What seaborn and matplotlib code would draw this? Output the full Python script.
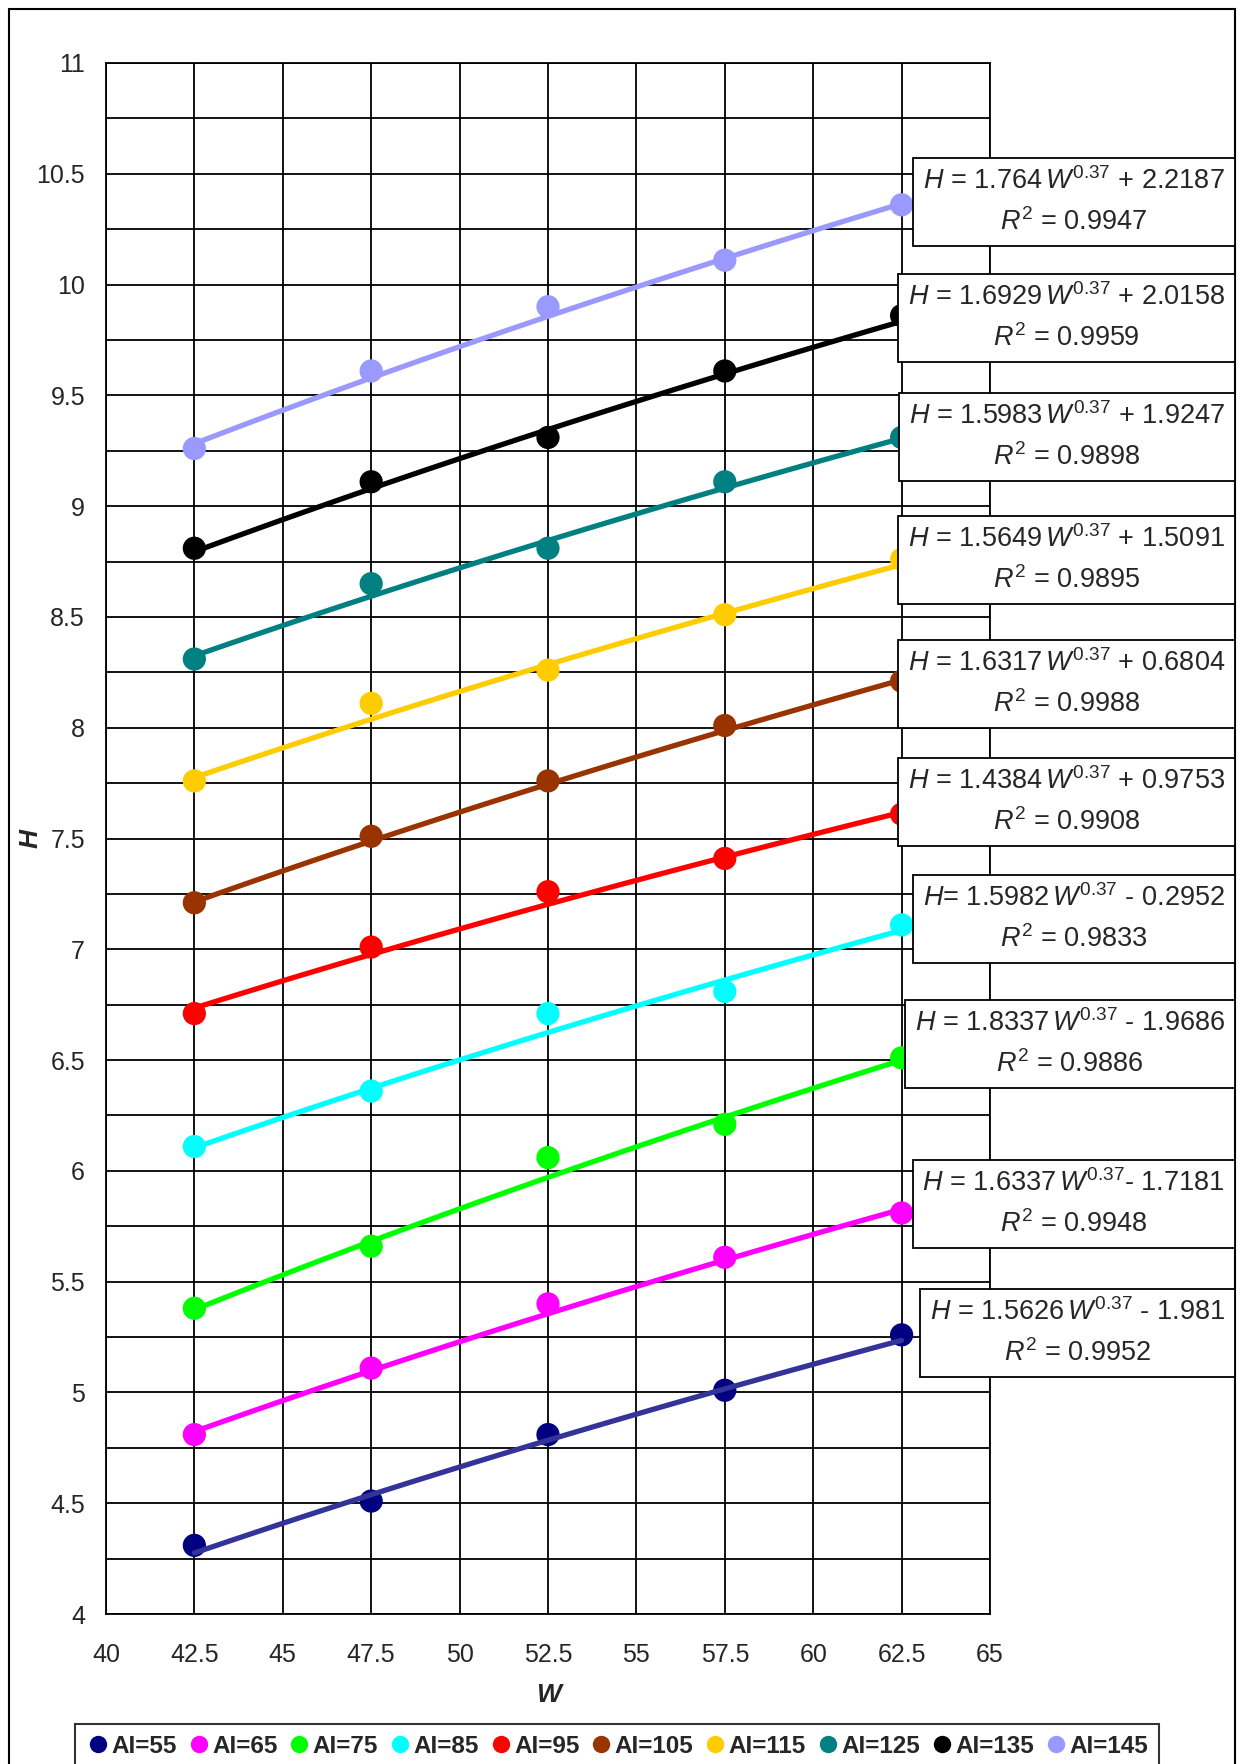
import numpy as np
import pandas as pd
import matplotlib
matplotlib.use('Agg')
import matplotlib.pyplot as plt
import seaborn as sns
from matplotlib.ticker import MultipleLocator, FuncFormatter
from matplotlib.patches import Rectangle
from matplotlib.lines import Line2D

# ---- data ----
w_values = [42.5, 47.5, 52.5, 57.5, 62.5]
ai_labels = ['AI=55', 'AI=65', 'AI=75', 'AI=85', 'AI=95',
             'AI=105', 'AI=115', 'AI=125', 'AI=135', 'AI=145']

h_ai55 = [4.31, 4.51, 4.81, 5.01, 5.26]
h_ai65 = [4.81, 5.11, 5.40, 5.61, 5.81]
h_ai75 = [5.38, 5.66, 6.06, 6.21, 6.51]
h_ai85 = [6.11, 6.36, 6.71, 6.81, 7.11]
h_ai95 = [6.71, 7.01, 7.26, 7.41, 7.61]
h_ai105 = [7.21, 7.51, 7.76, 8.01, 8.21]
h_ai115 = [7.76, 8.11, 8.26, 8.51, 8.76]
h_ai125 = [8.31, 8.65, 8.81, 9.11, 9.31]
h_ai135 = [8.81, 9.11, 9.31, 9.61, 9.86]
h_ai145 = [9.26, 9.61, 9.90, 10.11, 10.36]

# trend line coefficients  H = a * W^0.37 + b
coef_a = ['1.5626', '1.6337', '1.8337', '1.5982', '1.4384',
          '1.6317', '1.5649', '1.5983', '1.6929', '1.764']
coef_b = ['- 1.981', '- 1.7181', '- 1.9686', '- 0.2952', '+ 0.9753',
          '+ 0.6804', '+ 1.5091', '+ 1.9247', '+ 2.0158', '+ 2.2187']
r_squared = ['0.9952', '0.9948', '0.9886', '0.9833', '0.9908',
             '0.9988', '0.9895', '0.9898', '0.9959', '0.9947']

h_all = [h_ai55, h_ai65, h_ai75, h_ai85, h_ai95,
         h_ai105, h_ai115, h_ai125, h_ai135, h_ai145]

marker_colors = ['#000080', '#FF00FF', '#00FF00', '#00FFFF', '#FF0000',
                 '#993300', '#FFCC00', '#008080', '#000000', '#9999FF']
line_colors = ['#333399', '#FF00FF', '#00FF00', '#00FFFF', '#FF0000',
               '#993300', '#FFCC00', '#008080', '#000000', '#9999FF']

# ---- tidy frames ----
points = pd.DataFrame([(lab, w, h) for lab, hs in zip(ai_labels, h_all)
                       for w, h in zip(w_values, hs)], columns=['AI', 'W', 'H'])

w_fit = np.linspace(min(w_values), max(w_values), 60)
trend_rows = []
for lab, a, b in zip(ai_labels, coef_a, coef_b):
    bval = float(b.replace(' ', ''))
    for w in w_fit:
        trend_rows.append((lab, w, float(a) * w ** 0.37 + bval))
trend = pd.DataFrame(trend_rows, columns=['AI', 'W', 'H'])

# ---- style ----
sns.set_style('white')
plt.rcParams['font.family'] = ['Liberation Sans', 'DejaVu Sans']
plt.rcParams['mathtext.fontset'] = 'custom'
plt.rcParams['mathtext.rm'] = 'Liberation Sans'
plt.rcParams['mathtext.it'] = 'Liberation Sans:italic'

fig = plt.figure(figsize=(12.45, 17.64), dpi=100)
ax = fig.add_axes([0.0851, 0.085, 0.7101, 0.8793])

sns.scatterplot(data=points, x='W', y='H', hue='AI', palette=marker_colors,
                s=280, edgecolor='none', legend=False, ax=ax, zorder=3)
sns.lineplot(data=trend, x='W', y='H', hue='AI', palette=line_colors,
             linewidth=3.8, legend=False, estimator=None, sort=False,
             ax=ax, zorder=4)

ax.set_xlim(40, 65)
ax.set_ylim(4, 11)
ax.set_xticks(np.arange(40, 65.1, 2.5))
ax.set_yticks(np.arange(4, 11.01, 0.5))
ax.yaxis.set_minor_locator(MultipleLocator(0.25))
fmt = FuncFormatter(lambda v, p: '%g' % v)
ax.xaxis.set_major_formatter(fmt)
ax.yaxis.set_major_formatter(fmt)
ax.grid(which='both', color='black', linewidth=1.3)
ax.set_axisbelow(True)
ax.tick_params(axis='both', which='major', direction='out', length=7,
               width=1.3, color='black', labelsize=18, pad=8)
ax.tick_params(axis='both', which='minor', length=0)
ax.tick_params(axis='x', pad=14)
for sp in ax.spines.values():
    sp.set_color('black')
    sp.set_linewidth(1.3)
ax.set_xlabel('')
ax.set_ylabel('')

fig.text(31 / 1245, 1 - 838 / 1764, 'H', rotation=90, fontsize=19,
         fontweight='bold', style='italic', ha='center', va='center')
fig.text(548 / 1245, 1 - 1695 / 1764, 'W', fontsize=19,
         fontweight='bold', style='italic', ha='center', va='center')

# ---- equation boxes ----
box_y = [1333, 1204, 1044, 919, 802, 684, 560, 437, 318, 202]
for i in range(len(ai_labels)):
    h_sym = r'$\mathit{H}$=' if ai_labels[i] == 'AI=85' else r'$\mathit{H}$ ='
    sep = '' if ai_labels[i] == 'AI=65' else ' '
    eq = (h_sym + ' ' + coef_a[i] + r'$\,\mathit{W}^{\mathrm{0.37}}$' + sep
          + coef_b[i] + '\n' + r'$\mathit{R}^{\mathrm{2}}$ = ' + r_squared[i])
    fig.text(1225 / 1245, 1 - box_y[i] / 1764, eq, fontsize=19.5,
             ha='right', va='center', multialignment='center',
             linespacing=1.6,
             bbox=dict(boxstyle='square,pad=0.36', fc='white',
                       ec='black', lw=1.3))

# ---- legend ----
handles = [Line2D([], [], marker='o', linestyle='none', markersize=12.5,
                  markerfacecolor=c, markeredgecolor='none')
           for c in marker_colors]
leg = fig.legend(handles, ai_labels, loc='upper center', ncol=10,
                 bbox_to_anchor=(0.4956, 1 - 1724 / 1764),
                 prop={'weight': 'bold', 'size': 17.5}, frameon=True,
                 fancybox=False, handletextpad=0.05, columnspacing=0.4,
                 handlelength=1.0, borderpad=0.45, borderaxespad=0)
leg.get_frame().set_edgecolor('black')
leg.get_frame().set_linewidth(1.5)

# outer chart frame
fig.patches.append(Rectangle((9 / 1245, -0.02), 1226 / 1245, 1.02 - 9 / 1764,
                             transform=fig.transFigure, fill=False,
                             edgecolor='black', linewidth=1.5, zorder=0))

plt.savefig('out.png', dpi=100)
